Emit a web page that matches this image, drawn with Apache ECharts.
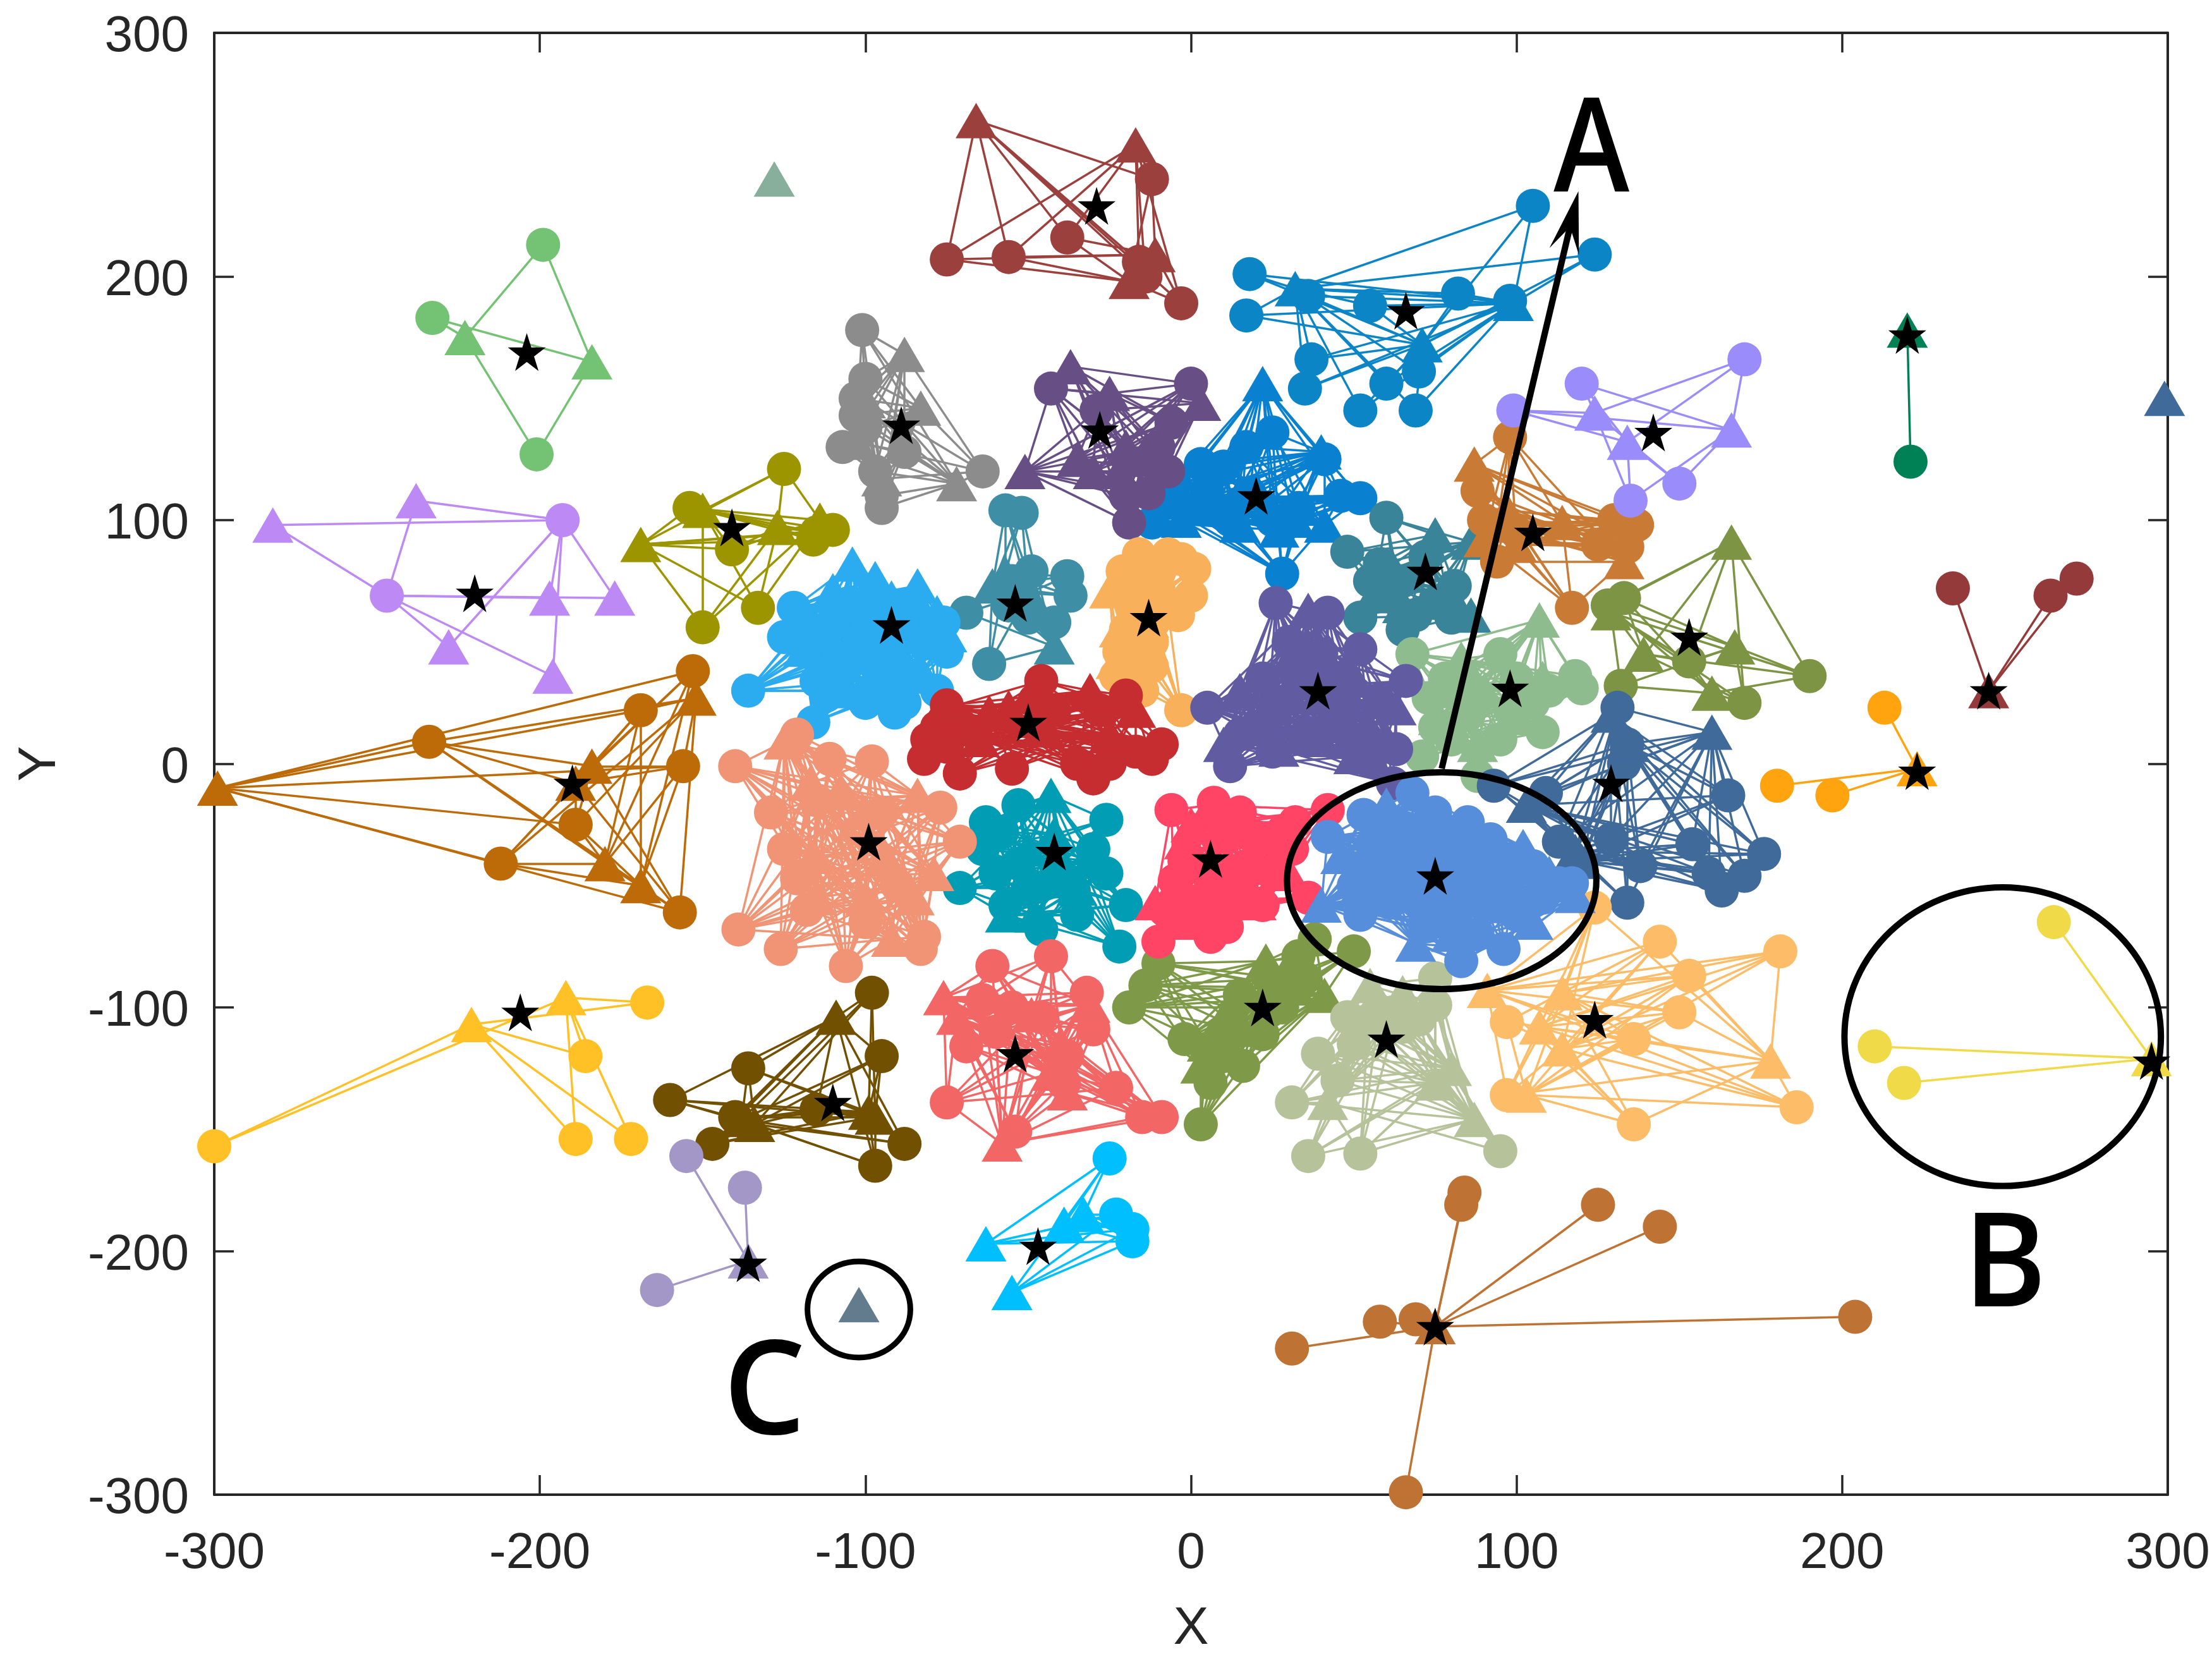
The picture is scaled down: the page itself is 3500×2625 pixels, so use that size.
<!DOCTYPE html>
<html>
<head>
<meta charset="UTF-8">
<title>Clusters</title>
<script src="https://cdn.jsdelivr.net/npm/echarts@6/dist/echarts.min.js"></script>
<style>
    body { margin: 0; background: #fff; }
    #main { width: 3500px; height: 2625px; }
</style>
</head>
<body>
<div id="main"></div>
<script>
// axis ticks
var xTicks = [-300, -200, -100, 0, 100, 200, 300];
var yTicks = [-300, -200, -100, 0, 100, 200, 300];

// each cluster: circles, triangles, star
var greenCircles = [[-199,213],[-233,183],[-201,127]];
var greenTriangles = [[-223,175],[-184,165]];
var greenStar = [-204,169];

var loneGreenTriangles = [[-128,240]];

var lilacCircles = [[-193,100],[-247,69]];
var lilacTriangles = [[-282,98],[-238,108],[-197,68],[-177,68],[-228,48],[-196,36]];
var lilacStar = [-220,70];

var oliveCircles = [[-125,121],[-154,105],[-141,88],[-150,56],[-133,64],[-110,96],[-116,92],[-115,95]];
var oliveTriangles = [[-169,90],[-150,104],[-127,97],[-114,100]];
var oliveStar = [-141,97];

var grayCircles = [[-101,178],[-100,158],[-103,143],[-107,130],[-64,120],[-95,105],[-88,128],[-103,150],[-100,138],[-97,120],[-95,110]];
var grayTriangles = [[-88,168],[-100,149],[-83,146],[-72,115],[-95,117],[-103,132]];
var grayStar = [-89,139];

var brickCircles = [[-75,207],[-56,208],[-38,216],[-12,240],[-16,206],[-14,200],[-3,189]];
var brickTriangles = [[-66,264],[-17,254],[-11,209],[-19,198]];
var brickStar = [-29,229];

var oceanCircles = [[105,229],[124,209],[18,201],[17,184],[36,192],[55,188],[82,193],[98,190],[37,166],[35,154],[52,145],[60,156],[69,145],[70,161]];
var oceanTriangles = [[32,195],[99,189],[71,172]];
var oceanStar = [66,186];

var plumCircles = [[-43,154],[0,156],[-6,140],[-29,145],[-7,120],[-13,111],[-19,99],[-20,110],[-10,130]];
var plumTriangles = [[-37,163],[-25,152],[3,148],[-51,120],[-35,125],[-22,120],[-20,130],[-15,125],[-30,120]];
var plumStar = [-28,137];

var azureCircles = [[25,136],[17,130],[3,123],[10,122],[41,125],[46,110],[52,109],[28,78],[-12,99],[18,111],[33,105],[5,112],[-5,115],[12,100],[25,100],[8,104]];
var azureTriangles = [[22,156],[40,128],[-10,108],[-6,109],[27,96],[41,98],[12,106],[0,105],[15,98],[32,100],[-3,100]];
var azureStar = [20,110];

var tealCircles = [[60,101],[48,87],[58,82],[81,73],[52,60],[69,61],[61,69],[65,75],[75,66],[55,75],[72,85],[65,55],[80,60]];
var tealTriangles = [[75,94],[86,91],[86,61],[56,69],[65,65],[78,72],[62,80]];
var tealStar = [72,79];

var seaCircles = [[-57,104],[-52,103],[-49,79],[-38,77],[-37,69],[-42,58],[-69,62],[-62,41],[-56,65],[-55,75],[-50,60]];
var seaTriangles = [[-61,73],[-57,78],[-42,48],[-50,70]];
var seaStar = [-54,66];

var skyCircles = [[-136,30],[-116,17],[-122,64],[-118,49],[-115,34],[-91,21],[-75,46],[-97,30],[-106,42],[-86,36],[-78,30],[-110,56],[-125,52],[-112,28],[-100,50],[-92,42],[-82,50],[-95,62],[-105,66],[-85,62],[-76,58],[-110,40],[-100,25],[-88,25],[-120,58]];
var skyTriangles = [[-104,82],[-84,73],[-75,53],[-110,71],[-97,76],[-82,36],[-106,30],[-119,47],[-95,47],[-88,59],[-100,60],[-92,68],[-112,60],[-78,62],[-105,45],[-90,30]];
var skyStar = [-92,57];

var sandCircles = [[-16,86],[-3,84],[1,80],[-7,86],[0,69],[-4,61],[-21,79],[-17,47],[-23,36],[-15,30],[-3,22],[-18,65],[-10,72],[-14,78],[-8,64],[-12,50],[-20,55],[-16,38],[-12,40],[-22,46],[-10,80],[-18,70]];
var sandTriangles = [[-25,71],[-23,42],[-13,59],[-19,33],[-15,75],[-8,72],[-14,46],[-22,55]];
var sandStar = [-13,60];

var redCircles = [[-46,34],[-75,24],[-81,10],[-82,2],[-71,-4],[-30,-6],[-25,0],[-12,2],[-9,8],[-20,28],[-48,26],[-17,5],[-75,7],[-70,15],[-42,22],[-55,-2],[-35,0],[-78,15],[-28,22]];
var redTriangles = [[-56,23],[-62,21],[-31,30],[-17,22],[-77,22],[-45,14],[-25,12],[-65,10]];
var redStar = [-50,17];

var mintCircles = [[68,45],[95,45],[118,36],[120,31],[73,27],[108,13],[71,3],[88,-5],[98,22],[87,30],[78,35],[105,25],[110,30],[85,20],[80,10],[95,10],[100,35],[75,15]];
var mintTriangles = [[107,59],[83,43],[76,19],[100,19],[90,30],[108,35],[88,8],[78,30]];
var mintStar = [98,31];

var indigoCircles = [[26,66],[42,62],[52,47],[66,34],[5,23],[12,-1],[63,6],[55,1],[62,-8],[33,36],[46,19],[30,50],[40,45],[22,35],[48,32],[20,15],[35,10],[50,10],[40,28],[25,5],[58,25],[15,12]];
var indigoTriangles = [[36,63],[63,23],[10,8],[27,6],[42,20],[55,14],[32,45],[24,24],[30,28],[48,40],[18,16],[40,10],[50,3],[36,48],[60,10],[15,30]];
var indigoStar = [39,30];

var mossCircles = [[190,36],[170,25],[132,32],[128,65],[133,68],[153,42]];
var mossTriangles = [[166,91],[129,62],[167,48],[160,29],[139,45]];
var mossStar = [153,52];

var ochreCircles = [[98,134],[88,112],[130,100],[137,98],[125,90],[134,89],[94,83],[117,64],[100,95],[90,100]];
var ochreTriangles = [[87,123],[97,104],[94,98],[114,99],[133,83],[90,92],[100,90]];
var ochreStar = [105,95];

var lavenderCircles = [[99,145],[120,156],[170,166],[150,115],[135,108]];
var lavenderTriangles = [[124,144],[134,132],[166,137]];
var lavenderStar = [142,136];

var pineCircles = [[221,124]];
var pineTriangles = [[220,178]];
var pineStar = [220,176];

var loneSteelTriangles = [[299,150]];

var maroonCircles = [[234,72],[264,69],[272,76]];
var maroonTriangles = [[245,30]];
var maroonStar = [245,30];

var steelCircles = [[131,23],[93,-9],[109,-12],[165,-13],[113,-32],[176,-37],[154,-33],[138,-42],[170,-46],[163,-52],[159,-45],[134,-57],[129,-31],[134,8],[133,0]];
var steelTriangles = [[129,20],[160,13],[103,-17],[118,-36],[134,8],[120,-40]];
var steelStar = [129,-8];

var tealBlueCircles = [[-26,-23],[-63,-24],[-53,-17],[-64,-35],[-71,-51],[-20,-58],[-22,-75],[-46,-68],[-26,-45],[-53,-41],[-57,-58],[-36,-52],[-58,-28],[-40,-45],[-30,-35],[-50,-52],[-35,-62],[-60,-45]];
var tealBlueTriangles = [[-43,-13],[-42,-29],[-57,-62],[-31,-40],[-35,-51],[-50,-35],[-45,-48],[-48,-62]];
var tealBlueStar = [-42,-36];

var salmonCircles = [[-140,-1],[-129,-20],[-121,-47],[-118,-60],[-139,-68],[-126,-76],[-106,-83],[-83,-76],[-82,-71],[-77,-18],[-71,-32],[-111,2],[-98,1],[-121,12],[-115,-15],[-95,-20],[-90,-50],[-100,-65],[-125,-35]];
var salmonTriangles = [[-125,9],[-84,-13],[-79,-45],[-92,-72],[-116,-38],[-108,-12],[-94,-38],[-117,-8],[-100,-20],[-85,-55],[-100,-55],[-115,-55]];
var salmonStar = [-99,-32];

var armyCircles = [[-10,-82],[-14,-91],[-19,-100],[-2,-113],[6,-131],[3,-148],[16,-124],[50,-77],[38,-72],[33,-79],[22,-111],[25,-90],[15,-95],[28,-100],[10,-110],[35,-88],[10,-120]];
var armyTriangles = [[23,-81],[41,-95],[3,-124],[15,-109],[28,-88],[12,-100],[5,-115],[32,-92]];
var armyStar = [22,-100];

var pinkCircles = [[-6,-19],[7,-16],[42,-19],[32,-24],[31,-35],[36,-55],[-10,-73],[6,-71],[11,-67],[-3,-55],[17,-42],[9,-55],[-2,-40],[10,-30],[20,-30],[25,-45],[0,-65],[15,-55],[5,-45],[-8,-60],[28,-28],[22,-58],[-5,-48],[15,-20]];
var pinkTriangles = [[6,-17],[-11,-57],[20,-57],[15,-24],[-2,-32],[0,-25],[12,-42],[5,-60],[25,-40],[-5,-65],[30,-45]];
var pinkStar = [6,-39];

var coralCircles = [[-61,-83],[-43,-79],[-32,-94],[-30,-109],[-69,-116],[-75,-139],[-23,-133],[-15,-145],[-9,-145],[-39,-131],[-54,-151],[-46,-104],[-64,-97],[-55,-100],[-38,-120],[-60,-110]];
var coralTriangles = [[-76,-96],[-72,-104],[-58,-156],[-43,-127],[-31,-99],[-49,-103],[-40,-115],[-38,-135]];
var coralStar = [-54,-119];

var sageCircles = [[75,-88],[75,-99],[48,-104],[39,-119],[31,-139],[36,-161],[52,-160],[95,-159],[62,-102],[55,-105],[65,-108],[50,-115],[70,-105],[45,-130]];
var sageTriangles = [[55,-91],[42,-139],[75,-131],[87,-146],[65,-94],[58,-100],[80,-125]];
var sageStar = [60,-113];

var apricotCircles = [[124,-59],[144,-73],[181,-77],[153,-87],[150,-102],[136,-113],[97,-106],[97,-136],[136,-148],[186,-141]];
var apricotTriangles = [[91,-93],[107,-108],[114,-117],[178,-122],[103,-136],[114,-94]];
var apricotStar = [124,-105];

var blueCircles = [[68,-12],[53,-21],[42,-30],[85,-24],[92,-31],[117,-49],[113,-49],[96,-76],[83,-81],[52,-62],[76,-39],[68,-45],[94,-57],[85,-34],[63,-34],[98,-45],[61,-57],[81,-62],[55,-42],[62,-25],[75,-20],[80,-30],[105,-42],[108,-55],[88,-70],[72,-65],[58,-48],[70,-30],[90,-47],[100,-62],[50,-50],[84,-52]];
var blueTriangles = [[60,-17],[102,-34],[46,-38],[40,-58],[118,-54],[105,-65],[69,-74],[76,-57],[94,-39],[68,-34],[55,-28],[70,-25],[85,-42],[60,-46],[52,-50],[80,-70],[95,-55],[110,-45],[88,-28],[72,-48]];
var blueStar = [75,-46];

var yellowCircles = [[265,-65],[210,-116],[219,-131]];
var yellowTriangles = [[295,-121]];
var yellowStar = [295,-122];

var orangeCircles = [[213,23],[180,-9],[197,-13]];
var orangeTriangles = [[223,-2]];
var orangeStar = [223,-3];

var amberCircles = [[-167,-98],[-186,-120],[-189,-154],[-172,-154],[-300,-157]];
var amberTriangles = [[-192,-96],[-221,-107]];
var amberStar = [-206,-102];

var copperCircles = [[-153,38],[-169,22],[-234,9],[-156,-1],[-189,-25],[-212,-41],[-157,-61]];
var copperTriangles = [[-152,27],[-299,-10],[-184,-1],[-189,-8],[-180,-41],[-169,-50]];
var copperStar = [-190,-8];

var umberCircles = [[-98,-94],[-95,-120],[-136,-125],[-160,-138],[-140,-145],[-147,-156],[-115,-142],[-97,-165],[-88,-156]];
var umberTriangles = [[-109,-104],[-99,-143],[-138,-146],[-97,-145],[-134,-148]];
var umberStar = [-110,-139];

var wisteriaCircles = [[-155,-161],[-137,-174],[-164,-216]];
var wisteriaTriangles = [[-136,-204]];
var wisteriaStar = [-136,-205];

var loneSlateTriangles = [[-102,-222]];

var cyanCircles = [[-25,-162],[-23,-185],[-18,-191],[-18,-196]];
var cyanTriangles = [[-63,-197],[-55,-217],[-39,-189],[-33,-185]];
var cyanStar = [-47,-198];

var bronzeCircles = [[84,-176],[83,-181],[125,-181],[144,-190],[204,-227],[69,-228],[58,-229],[31,-240],[66,-299]];
var bronzeTriangles = [[75,-231]];
var bronzeStar = [75,-231];

// annotations, in axis units
var ellipseRings = [[77,-48,47.5,44.5],[249.3,-112,48.6,61.3],[-102,-224,15.8,19.7]];
var ringWidths = [10,10,9];
var arrowFrom = [77,-2];
var arrowTo = [119,235];
var letterNames = ['A','B','C'];
var letterSpots = [[123,250],[250,-207.5],[-131,-260]];
var letterStretch = [0.88,0.97,1];

// drawing order follows the overlaps in the figure
var clusters = [
    [greenCircles, greenTriangles, greenStar, '#74C273'],
    [[], loneGreenTriangles, null, '#87AF9C'],
    [lilacCircles, lilacTriangles, lilacStar, '#BD89F4'],
    [oliveCircles, oliveTriangles, oliveStar, '#9C9500'],
    [grayCircles, grayTriangles, grayStar, '#8C8C8C'],
    [brickCircles, brickTriangles, brickStar, '#9C403D'],
    [oceanCircles, oceanTriangles, oceanStar, '#0C85C7'],
    [azureCircles, azureTriangles, azureStar, '#0A80D0'],
    [plumCircles, plumTriangles, plumStar, '#674F85'],
    [tealCircles, tealTriangles, tealStar, '#3A8499'],
    [seaCircles, seaTriangles, seaStar, '#3E8EA5'],
    [skyCircles, skyTriangles, skyStar, '#2BABF0'],
    [sandCircles, sandTriangles, sandStar, '#F8B05A'],
    [redCircles, redTriangles, redStar, '#C62D30'],
    [mintCircles, mintTriangles, mintStar, '#8FBC8F'],
    [indigoCircles, indigoTriangles, indigoStar, '#615CA2'],
    [mossCircles, mossTriangles, mossStar, '#7C9443'],
    [ochreCircles, ochreTriangles, ochreStar, '#C97A35'],
    [lavenderCircles, lavenderTriangles, lavenderStar, '#9A8DFB'],
    [pineCircles, pineTriangles, pineStar, '#008055'],
    [[], loneSteelTriangles, null, '#3F6A9A'],
    [maroonCircles, maroonTriangles, maroonStar, '#943A3A'],
    [steelCircles, steelTriangles, steelStar, '#3F6A9A'],
    [tealBlueCircles, tealBlueTriangles, tealBlueStar, '#009DB4'],
    [salmonCircles, salmonTriangles, salmonStar, '#F19475'],
    [armyCircles, armyTriangles, armyStar, '#7E9A48'],
    [pinkCircles, pinkTriangles, pinkStar, '#FF4466'],
    [coralCircles, coralTriangles, coralStar, '#F26666'],
    [sageCircles, sageTriangles, sageStar, '#B6C29A'],
    [apricotCircles, apricotTriangles, apricotStar, '#FDBD68'],
    [blueCircles, blueTriangles, blueStar, '#568EDB'],
    [yellowCircles, yellowTriangles, yellowStar, '#F0DA48'],
    [orangeCircles, orangeTriangles, orangeStar, '#FFA30F'],
    [amberCircles, amberTriangles, amberStar, '#FFC125'],
    [copperCircles, copperTriangles, copperStar, '#BD6B08'],
    [umberCircles, umberTriangles, umberStar, '#725002'],
    [wisteriaCircles, wisteriaTriangles, wisteriaStar, '#A297C6'],
    [[], loneSlateTriangles, null, '#627C8E'],
    [cyanCircles, cyanTriangles, cyanStar, '#00BFFF'],
    [bronzeCircles, bronzeTriangles, bronzeStar, '#BE7335']
];

var starPath = 'path://M50 0L61.8 36.2L100 36.2L69.1 58.8L80.9 95.1L50 72.4L19.1 95.1L30.9 58.8L0 36.2L38.2 36.2Z';
var inkColor = '#262626';
var series = [];

clusters.forEach(function (c, i) {
    // every circle is linked to every triangle of its cluster
    var links = [];
    c[0].forEach(function (p) {
        c[1].forEach(function (t) {
            links.push({ coords: [p, t] });
        });
    });
    series.push({
        type: 'lines',
        coordinateSystem: 'cartesian2d',
        data: links,
        silent: true,
        clip: false,
        lineStyle: { color: c[3], width: 3.5, opacity: 1, curveness: 0 },
        z: 10 + i
    });
    series.push({
        type: 'scatter',
        data: c[0],
        symbol: 'circle',
        symbolSize: 54,
        clip: false,
        itemStyle: { color: c[3], opacity: 1 },
        z: 10 + i
    });
    series.push({
        type: 'scatter',
        data: c[1],
        symbol: 'triangle',
        symbolSize: [65, 56],
        clip: false,
        itemStyle: { color: c[3], opacity: 1 },
        z: 10 + i
    });
});

// stars stay above all clusters
series.push({
    type: 'scatter',
    data: clusters.filter(function (c) { return c[2]; }).map(function (c) { return c[2]; }),
    symbol: starPath,
    symbolSize: 60,
    clip: false,
    itemStyle: { color: '#000', opacity: 1 },
    z: 80
});

// ellipses A, B, C
series.push({
    type: 'custom',
    data: ellipseRings,
    encode: { x: 0, y: 1 },
    silent: true,
    renderItem: function (params, api) {
        var c = api.coord([api.value(0), api.value(1)]);
        var s = api.size([api.value(2), api.value(3)]);
        return {
            type: 'ellipse',
            shape: { cx: c[0], cy: c[1], rx: s[0], ry: s[1] },
            style: { fill: null, stroke: '#000', lineWidth: ringWidths[params.dataIndex] }
        };
    },
    z: 90
});

// arrow to letter A
series.push({
    type: 'custom',
    data: [[arrowFrom[0], arrowFrom[1], arrowTo[0], arrowTo[1]]],
    encode: { x: [0, 2], y: [1, 3] },
    silent: true,
    renderItem: function (params, api) {
        var a = api.coord([api.value(0), api.value(1)]);
        var b = api.coord([api.value(2), api.value(3)]);
        var len = Math.hypot(b[0] - a[0], b[1] - a[1]);
        var ux = (b[0] - a[0]) / len, uy = (b[1] - a[1]) / len;
        var px = -uy, py = ux;
        var head = [
            b,
            [b[0] - ux * 98 + px * 24, b[1] - uy * 98 + py * 24],
            [b[0] - ux * 58, b[1] - uy * 58],
            [b[0] - ux * 98 - px * 24, b[1] - uy * 98 - py * 24]
        ];
        return {
            type: 'group',
            children: [
                { type: 'line', shape: { x1: a[0], y1: a[1], x2: b[0] - ux * 58, y2: b[1] - uy * 58 }, style: { stroke: '#000', lineWidth: 10 } },
                { type: 'polygon', shape: { points: head }, style: { fill: '#000' } }
            ]
        };
    },
    z: 90
});

// big letters
series.push({
    type: 'custom',
    data: letterSpots,
    encode: { x: 0, y: 1 },
    silent: true,
    renderItem: function (params, api) {
        var c = api.coord([api.value(0), api.value(1)]);
        return {
            type: 'text',
            x: c[0],
            y: c[1],
            scaleX: letterStretch[params.dataIndex],
            style: {
                text: letterNames[params.dataIndex],
                x: 0,
                y: 0,
                align: 'center',
                verticalAlign: 'middle',
                fontFamily: 'Open Sans',
                fontWeight: 600,
                fontSize: 206,
                fill: '#000'
            }
        };
    },
    z: 90
});

function valueAxis(pos, name, ticks, showLabels) {
    var label = {
        show: showLabels,
        fontFamily: 'Liberation Sans',
        fontSize: 80,
        color: inkColor,
        margin: (pos === 'left') ? 40 : 54
    };
    if (pos === 'left') {
        // nudges the numbers just below their ticks
        label.verticalAlign = 'top';
        label.lineHeight = 14;
    }
    return {
        type: 'value',
        position: pos,
        min: ticks[0],
        max: ticks[ticks.length - 1],
        interval: 100,
        name: name,
        nameLocation: 'middle',
        nameGap: (pos === 'left') ? 233 : 171,
        nameTextStyle: { fontFamily: 'Liberation Sans', fontSize: 84, color: inkColor },
        splitLine: { show: false },
        axisLine: { show: true, onZero: false, lineStyle: { color: inkColor, width: 4 } },
        axisTick: { show: true, inside: true, length: 31, lineStyle: { color: inkColor, width: 3.5 } },
        axisLabel: label
    };
}

var option = {
    animation: false,
    backgroundColor: '#fff',
    grid: { left: 339, top: 52, width: 3091, height: 2313, containLabel: false, outerBoundsMode: 'none' },
    xAxis: [valueAxis('bottom', 'X', xTicks, true), valueAxis('top', '', xTicks, false)],
    yAxis: [valueAxis('left', 'Y', yTicks, true), valueAxis('right', '', yTicks, false)],
    series: series
};

var chart = echarts.init(document.getElementById('main'));
chart.setOption(option);
</script>
</body>
</html>
